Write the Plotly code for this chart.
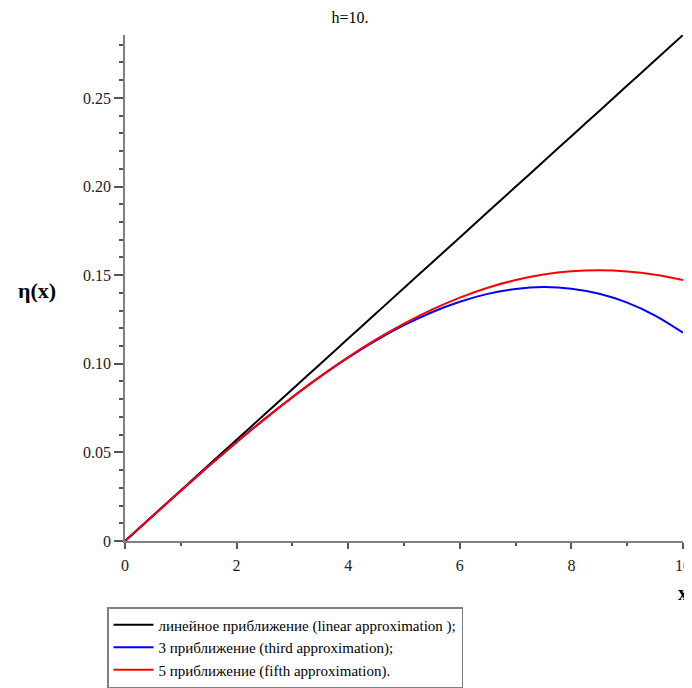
import plotly.graph_objects as go

x_vals = [0, 0.5, 1, 1.5, 2, 2.5, 3, 3.5, 4, 4.5, 5, 5.5, 6, 6.5, 7, 7.5, 8, 8.5, 9, 9.5, 10]
linear_vals = [0, 0.01428, 0.02855, 0.04283, 0.0571, 0.07138, 0.08565, 0.09993, 0.1142, 0.12848,
               0.14275, 0.15703, 0.1713, 0.18558, 0.19985, 0.21413, 0.2284, 0.24268, 0.25695, 0.27123, 0.2855]
third_vals = [0, 0.01425, 0.02838, 0.04226, 0.05576, 0.06875, 0.08111, 0.09272, 0.10345, 0.11317,
              0.12175, 0.12907, 0.13501, 0.13944, 0.14223, 0.14325, 0.14238, 0.1395, 0.13448, 0.12719, 0.1175]
fifth_vals = [0, 0.01425, 0.02838, 0.04226, 0.05577, 0.06878, 0.08118, 0.09288, 0.10376, 0.11372,
              0.12268, 0.13057, 0.13733, 0.1429, 0.14724, 0.15032, 0.15215, 0.15272, 0.15208, 0.15025, 0.1473]

series_names = [
    "линейное приближение (linear approximation );",
    "3 приближение (third approximation);",
    "5 приближение (fifth approximation).",
]
series_colors = ["#000000", "#0000ff", "#ff0000"]

x_ticks = [0, 2, 4, 6, 8, 10]
x_tick_text = ["0", "2", "4", "6", "8", "10"]
y_ticks = [0, 0.05, 0.10, 0.15, 0.20, 0.25]
y_tick_text = ["0", "0.05", "0.10", "0.15", "0.20", "0.25"]

title_text = "h=10."
x_label = "x"
y_label = "η(x)"

FONT = "Liberation Serif"
W, H = 684, 680  # page body has an 8px margin

fig = go.Figure()
for name, ys, col in zip(series_names, [linear_vals, third_vals, fifth_vals], series_colors):
    fig.add_trace(go.Scatter(x=x_vals, y=ys, mode="lines", name=name,
                             line=dict(color=col, width=2, shape="spline")))

axis_common = dict(
    showgrid=False, zeroline=False, showline=True, linecolor="#808080", linewidth=1.5,
    ticks="outside", tickwidth=1.5, tickcolor="#555555", automargin=False,
    tickfont=dict(family=FONT, size=16, color="#222222"),
)

fig.update_layout(
    width=W, height=H,
    paper_bgcolor="white", plot_bgcolor="white",
    margin=dict(l=117, r=9, t=27, b=H - 533, autoexpand=False),
    title=dict(text=title_text, x=(350 - 8) / W, xanchor="center", y=1 - 9 / H, yanchor="middle",
               font=dict(family=FONT, size=16, color="#000000")),
    xaxis=dict(range=[0, 10], tickvals=x_ticks, ticktext=x_tick_text, ticklen=6, ticklabelstandoff=3,
               minor=dict(dtick=1, ticks="outside", ticklen=3, tickcolor="#555555", tickwidth=1.5),
               **axis_common),
    yaxis=dict(range=[0, 0.2855], tickvals=y_ticks, ticktext=y_tick_text, ticklen=9,
               minor=dict(dtick=0.01, tick0=0, ticks="outside", ticklen=4, tickcolor="#555555", tickwidth=1.5),
               **axis_common),
    showlegend=True,
    legend=dict(xref="container", yref="container", x=(107 - 8) / W, y=1 - (607 - 8) / H,
                xanchor="left", yanchor="top",
                bordercolor="#808080", borderwidth=1.5, bgcolor="white",
                font=dict(family=FONT, size=15, color="#000000"),
                tracegroupgap=0, itemwidth=40),
    annotations=[
        dict(text="<b>" + y_label + "</b>", xref="paper", yref="paper",
             x=(37 - 125) / 558, y=(541 - 290) / 506, showarrow=False,
             font=dict(family=FONT, size=22, color="#000000"), xanchor="center", yanchor="middle"),
        dict(text="<b>" + x_label + "</b>", xref="paper", yref="paper",
             x=1.0, y=(541 - 593) / 506, showarrow=False,
             font=dict(family=FONT, size=20, color="#000000"), xanchor="center", yanchor="middle"),
    ],
)

fig.write_html("out.html")
